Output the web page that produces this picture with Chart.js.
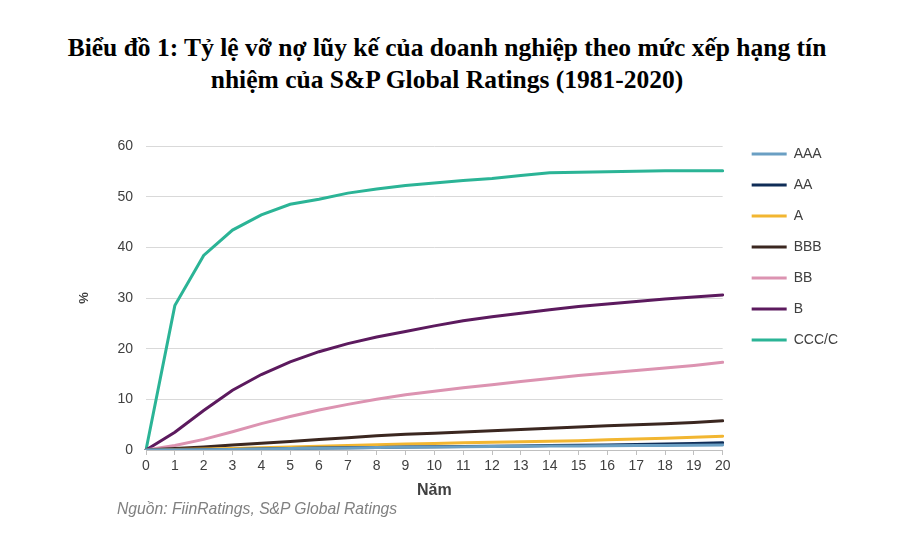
<!DOCTYPE html>
<html lang="vi">
<head>
<meta charset="utf-8">
<script src="https://cdn.jsdelivr.net/npm/chart.js@4.4.1/dist/chart.umd.min.js"></script>
<style>
  body { margin: 0; width: 920px; height: 560px; overflow: hidden; background: #fff; position: relative; }
  #title { position: absolute; left: 0; top: 32px; width: 894px; text-align: center;
           font: bold 25.5px/32px "Liberation Serif", serif; color: #000; }
  #source { position: absolute; left: 117px; top: 500px;
            font: italic 15.7px "Liberation Sans", Arial, sans-serif; color: #808080; }
  canvas { position: absolute; left: 0; top: 0; }
</style>
</head>
<body>
<div id="title">Biểu đồ 1: Tỷ lệ vỡ nợ lũy kế của doanh nghiệp theo mức xếp hạng tín<br>nhiệm của S&amp;P Global Ratings (1981-2020)</div>
<canvas id="chart" width="920" height="560"></canvas>
<div id="source">Nguồn: FiinRatings, S&amp;P Global Ratings</div>
<script>
// Số năm (trục x)
const years = ['0','1','2','3','4','5','6','7','8','9','10','11','12','13','14','15','16','17','18','19','20'];

// Tỷ lệ vỡ nợ lũy kế (%) theo hạng
const aaa = [0, 0, 0.03, 0.1, 0.2, 0.3, 0.35, 0.4, 0.5, 0.55, 0.6, 0.65, 0.7, 0.75, 0.8, 0.8, 0.85, 0.9, 0.9, 0.95, 1.0];
const aa  = [0, 0.02, 0.06, 0.12, 0.2, 0.3, 0.4, 0.45, 0.5, 0.6, 0.65, 0.7, 0.75, 0.8, 0.9, 0.95, 1.0, 1.1, 1.2, 1.3, 1.45];
const a   = [0, 0.1, 0.2, 0.3, 0.45, 0.6, 0.75, 0.9, 1.05, 1.2, 1.3, 1.45, 1.55, 1.65, 1.75, 1.85, 2.0, 2.15, 2.3, 2.5, 2.7];
const bbb = [0, 0.3, 0.6, 1.0, 1.35, 1.7, 2.05, 2.4, 2.8, 3.1, 3.3, 3.55, 3.8, 4.05, 4.3, 4.55, 4.8, 5.0, 5.2, 5.45, 5.75];
const bb  = [0, 0.9, 2.1, 3.6, 5.2, 6.6, 7.9, 9.0, 10.0, 10.9, 11.6, 12.3, 12.9, 13.5, 14.1, 14.7, 15.2, 15.7, 16.2, 16.7, 17.3];
const b   = [0, 3.5, 7.8, 11.8, 14.9, 17.4, 19.4, 21.0, 22.3, 23.4, 24.5, 25.5, 26.3, 27.0, 27.7, 28.3, 28.8, 29.3, 29.8, 30.2, 30.6];
const ccc = [0, 28.5, 38.4, 43.4, 46.4, 48.5, 49.5, 50.7, 51.5, 52.2, 52.7, 53.2, 53.6, 54.2, 54.7, 54.8, 54.9, 55.0, 55.1, 55.1, 55.1];

const labelFont = { family: '"Liberation Sans", Arial, sans-serif', size: 14 };
const textColor = '#404040';

function serie(label, data, color) {
    return {
        label: label,
        data: data,
        borderColor: color,
        backgroundColor: color,
        borderWidth: 3,
        borderCapStyle: 'round',
        pointRadius: 0,
        tension: 0
    };
}

// Đẩy chú thích sang phải/lên trên cho giống bản gốc
const legendNudge = {
    id: 'legendNudge',
    afterLayout(chart) {
        const lg = chart.legend;
        lg.left += 12; lg.right += 12;
        lg.top -= 16; lg.bottom -= 16;
    }
};

new Chart(document.getElementById('chart'), {
    type: 'line',
    data: {
        labels: years,
        datasets: [
            serie('AAA', aaa, '#6a9fc3'),
            serie('AA', aa, '#0f2d57'),
            serie('A', a, '#f2b631'),
            serie('BBB', bbb, '#3b2720'),
            serie('BB', bb, '#dc93b1'),
            serie('B', b, '#5c1a5e'),
            serie('CCC/C', ccc, '#2bb496')
        ]
    },
    options: {
        responsive: false,
        animation: false,
        layout: { padding: { top: 146, left: 70, right: 84, bottom: 56 } },
        scales: {
            x: {
                grid: { drawOnChartArea: false, tickLength: 5, color: '#bfbfbf' },
                border: { color: '#bfbfbf' },
                ticks: { font: labelFont, color: textColor, padding: 3, maxRotation: 0, autoSkip: false },
                title: { display: true, text: 'Năm', color: textColor,
                         font: { family: labelFont.family, size: 16, weight: 'bold' },
                         padding: { top: 0, bottom: 4 } },
                afterFit(scale) { scale.height = 54; }
            },
            y: {
                min: 0,
                max: 60,
                grid: { color: '#d9d9d9', drawTicks: false },
                border: { display: false },
                ticks: { stepSize: 10, font: labelFont, color: textColor, padding: 13 },
                title: { display: true, text: '%', color: textColor,
                         font: { family: labelFont.family, size: 13, weight: 'bold' },
                         padding: { top: 7, bottom: 0 } },
                afterFit(scale) { scale.width = 76; }
            }
        },
        plugins: {
            legend: {
                position: 'right',
                align: 'start',
                labels: {
                    usePointStyle: true,
                    pointStyle: 'line',
                    pointStyleWidth: 35,
                    padding: 17,
                    font: labelFont,
                    color: textColor
                }
            },
            tooltip: { enabled: false }
        }
    },
    plugins: [legendNudge]
});
</script>
</body>
</html>
